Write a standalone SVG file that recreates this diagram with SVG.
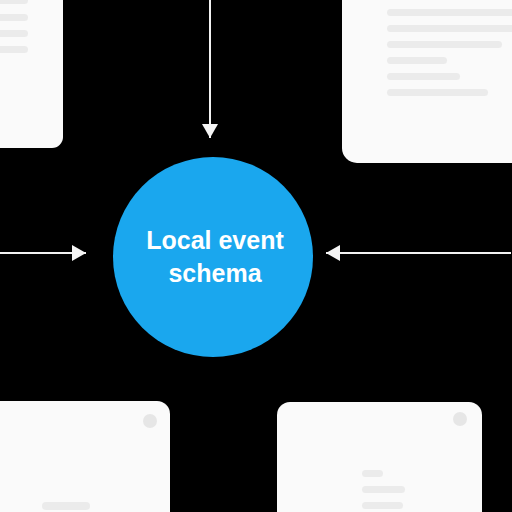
<svg xmlns="http://www.w3.org/2000/svg" width="512" height="512" viewBox="0 0 512 512">
<style>
.card{fill:#fafafa}
.bar{fill:#ebebeb}
.dot{fill:#e6e6e6}
.conn{stroke:#f2f2f2;stroke-width:2;fill:none}
.label{font-family:"Liberation Sans",Arial,sans-serif;font-size:25px;font-weight:bold;fill:#ffffff;text-anchor:middle}
</style>
<defs>
<marker id="ah" viewBox="0 0 14 16" refX="14" refY="8" markerWidth="14" markerHeight="16" markerUnits="userSpaceOnUse" orient="auto">
<path d="M0,0 L14,8 L0,16 Z" fill="#f5f5f5"/>
</marker>
</defs>
<rect width="512" height="512" fill="#000"/>
<g id="card-top-left">
<rect class="card" x="-20" y="-20" width="83" height="168" rx="11"/>
<rect class="bar" x="-5" y="-3" width="33" height="7" rx="3.5"/>
<rect class="bar" x="-5" y="14" width="33" height="7" rx="3.5"/>
<rect class="bar" x="-5" y="30" width="33" height="7" rx="3.5"/>
<rect class="bar" x="-5" y="46" width="33" height="7" rx="3.5"/>
</g>
<g id="card-top-right">
<rect class="card" x="342" y="-20" width="190" height="183" rx="15"/>
<rect class="bar" x="387" y="9" width="130" height="7" rx="3.5"/>
<rect class="bar" x="387" y="25" width="130" height="7" rx="3.5"/>
<rect class="bar" x="387" y="41" width="115" height="7" rx="3.5"/>
<rect class="bar" x="387" y="57" width="60" height="7" rx="3.5"/>
<rect class="bar" x="387" y="73" width="73" height="7" rx="3.5"/>
<rect class="bar" x="387" y="89" width="101" height="7" rx="3.5"/>
</g>
<g id="card-bottom-left">
<rect class="card" x="-20" y="401" width="190" height="131" rx="13"/>
<circle class="dot" cx="150" cy="421" r="7"/>
<rect class="bar" x="42" y="502" width="48" height="8" rx="4"/>
</g>
<g id="card-bottom-right">
<rect class="card" x="277" y="402" width="205" height="130" rx="13"/>
<circle class="dot" cx="460" cy="419" r="7"/>
<rect class="bar" x="362" y="470" width="21" height="7" rx="3.5"/>
<rect class="bar" x="362" y="486" width="43" height="7" rx="3.5"/>
<rect class="bar" x="362" y="502" width="41" height="7" rx="3.5"/>
</g>
<g id="connectors">
<line class="conn" x1="210" y1="0" x2="210" y2="138" marker-end="url(#ah)"/>
<line class="conn" x1="0" y1="253" x2="86" y2="253" marker-end="url(#ah)"/>
<line class="conn" x1="511" y1="253" x2="326" y2="253" marker-end="url(#ah)"/>
</g>
<g id="node-local-event-schema">
<circle cx="213" cy="257" r="100" fill="#1aa7ee"/>
<text class="label" x="215" y="249">Local event</text>
<text class="label" x="215" y="282">schema</text>
</g>
</svg>
